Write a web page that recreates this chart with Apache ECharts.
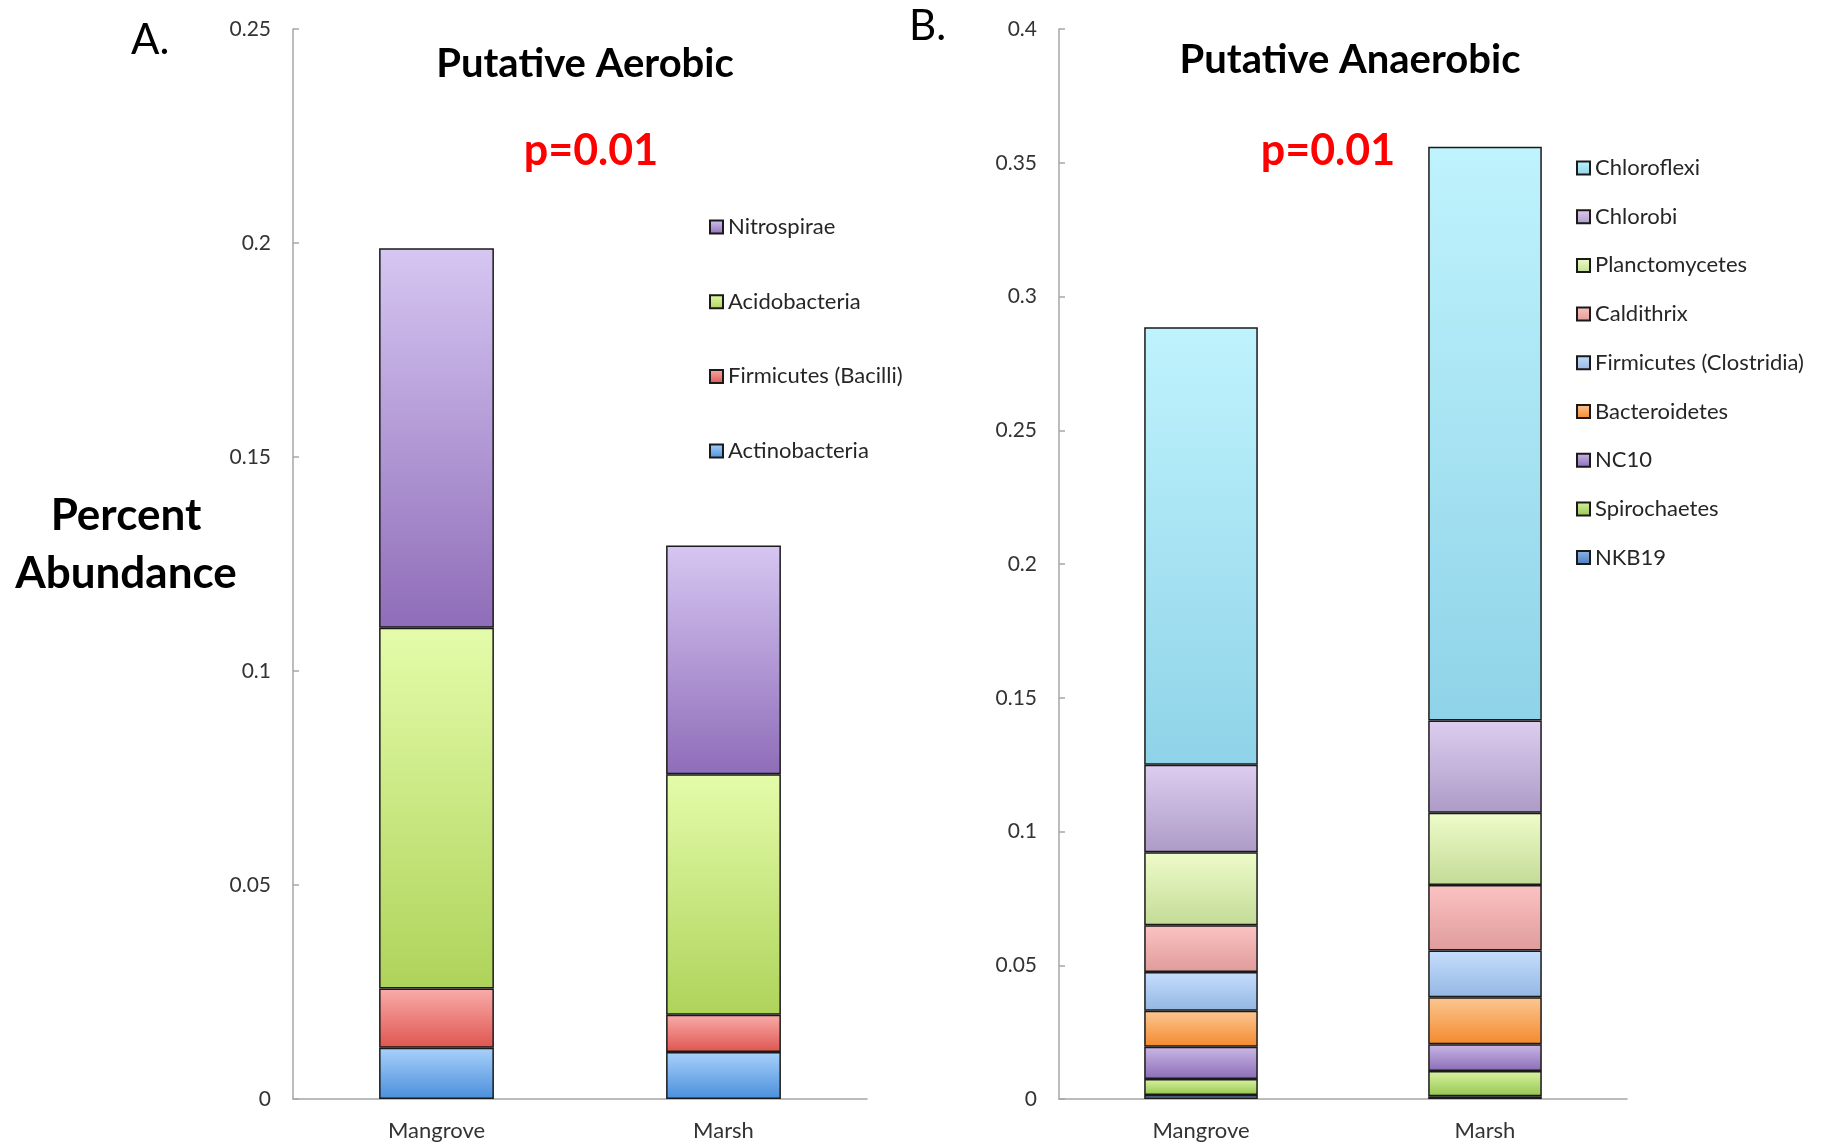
<!DOCTYPE html>
<html>
<head>
<meta charset="utf-8">
<title>Putative Aerobic / Anaerobic</title>
<script src="https://cdn.jsdelivr.net/npm/echarts@6/dist/echarts.min.js"></script>
<style>
  html, body { margin: 0; padding: 0; background: #ffffff; }
  #chart { width: 1821px; height: 1144px; }
</style>
</head>
<body>
<div id="chart"></div>
<script>
// Sites on the x axis of both panels
const categories = ['Mangrove', 'Marsh'];

// Panel A: putative aerobic phyla (stacked bottom to top), values per site
const actinobacteria = [0.0120, 0.0110];
const firmicutesBacilli = [0.0138, 0.0087];
const acidobacteria = [0.0843, 0.0562];
const nitrospirae = [0.0887, 0.0534];

// Panel B: putative anaerobic phyla (stacked bottom to top), values per site
const nkb19 = [0.0015, 0.0010];
const spirochaetes = [0.0060, 0.0095];
const nc10 = [0.0120, 0.0100];
const bacteroidetes = [0.0135, 0.0175];
const firmicutesClostridia = [0.0145, 0.0175];
const caldithrix = [0.0175, 0.0245];
const planctomycetes = [0.0272, 0.0270];
const chlorobi = [0.0328, 0.0345];
const chloroflexi = [0.1635, 0.2145];

// Value axis ranges and tick step
const aerobicAxisMax = 0.25;
const anaerobicAxisMax = 0.4;
const axisStep = 0.05;

const chart = echarts.init(document.getElementById('chart'));
const FONT = 'Lato, "Open Sans", sans-serif';

function grad(top, bottom) {
  return new echarts.graphic.LinearGradient(0, 0, 0, 1, [
    { offset: 0, color: top },
    { offset: 1, color: bottom }
  ]);
}

function stackSeries(name, data, axisIndex, stack, top, bottom) {
  return {
    name: name,
    type: 'bar',
    stack: stack,
    xAxisIndex: axisIndex,
    yAxisIndex: axisIndex,
    data: data,
    barWidth: '40%',
    itemStyle: { color: grad(top, bottom), borderColor: '#1a1a1a', borderWidth: 1.5 },
    emphasis: { disabled: true }
  };
}

const axisLineStyle = { lineStyle: { color: '#a6a6a6', width: 1.5 } };

function xAxis(gridIndex) {
  return {
    type: 'category',
    gridIndex: gridIndex,
    data: categories,
    boundaryGap: true,
    axisLine: axisLineStyle,
    axisTick: { inside: true, length: 6, lineStyle: { color: '#a6a6a6', width: 1.5 } },
    axisLabel: { color: '#333333', fontFamily: FONT, fontSize: 22, margin: 21 }
  };
}

function yAxis(gridIndex, max) {
  return {
    type: 'value',
    gridIndex: gridIndex,
    min: 0,
    max: max,
    interval: axisStep,
    splitLine: { show: false },
    axisLine: { show: true, lineStyle: { color: '#a6a6a6', width: 1.5 } },
    axisTick: { show: true, inside: true, length: 6, lineStyle: { color: '#a6a6a6', width: 1.5 } },
    axisLabel: { color: '#333333', fontFamily: FONT, fontSize: 21, margin: 22 }
  };
}

const legendText = { fontFamily: FONT, fontSize: 22, color: '#262626', lineHeight: 20 };

const option = {
  backgroundColor: '#ffffff',
  animation: false,
  grid: [
    { left: 293, top: 29, width: 574, height: 1070 },
    { left: 1059, top: 29, width: 568, height: 1070 }
  ],
  xAxis: [xAxis(0), xAxis(1)],
  yAxis: [yAxis(0, aerobicAxisMax), yAxis(1, anaerobicAxisMax)],
  legend: [
    {
      orient: 'vertical', left: 709, top: 216, itemGap: 52.7, padding: 0,
      itemWidth: 13, itemHeight: 13, icon: 'rect',
      textStyle: legendText,
      data: ['Nitrospirae', 'Acidobacteria', 'Firmicutes (Bacilli)', 'Actinobacteria'],
      selectedMode: false
    },
    {
      orient: 'vertical', left: 1576, top: 157, itemGap: 26.7,
      padding: 0,
      itemWidth: 13, itemHeight: 13, icon: 'rect',
      textStyle: legendText,
      data: ['Chloroflexi', 'Chlorobi', 'Planctomycetes', 'Caldithrix',
        'Firmicutes (Clostridia)', 'Bacteroidetes', 'NC10', 'Spirochaetes', 'NKB19'],
      selectedMode: false
    }
  ],
  series: [
    stackSeries('Actinobacteria', actinobacteria, 0, 'aerobic', '#a9d1fb', '#4a8fdc'),
    stackSeries('Firmicutes (Bacilli)', firmicutesBacilli, 0, 'aerobic', '#f9acaa', '#df5650'),
    stackSeries('Acidobacteria', acidobacteria, 0, 'aerobic', '#e4fcaa', '#aed35a'),
    stackSeries('Nitrospirae', nitrospirae, 0, 'aerobic', '#d6c6f2', '#8f6db9'),

    stackSeries('NKB19', nkb19, 1, 'anaerobic', '#8fb7e3', '#4a7cc0'),
    stackSeries('Spirochaetes', spirochaetes, 1, 'anaerobic', '#d9f2a2', '#95c64f'),
    stackSeries('NC10', nc10, 1, 'anaerobic', '#cbb7e6', '#8a6db6'),
    stackSeries('Bacteroidetes', bacteroidetes, 1, 'anaerobic', '#fcc793', '#f38a2e'),
    stackSeries('Firmicutes (Clostridia)', firmicutesClostridia, 1, 'anaerobic', '#c6defd', '#93b7e3'),
    stackSeries('Caldithrix', caldithrix, 1, 'anaerobic', '#fbc3c2', '#df9c9b'),
    stackSeries('Planctomycetes', planctomycetes, 1, 'anaerobic', '#effcca', '#c3db97'),
    stackSeries('Chlorobi', chlorobi, 1, 'anaerobic', '#ddcdef', '#ad9bc7'),
    stackSeries('Chloroflexi', chloroflexi, 1, 'anaerobic', '#bff3fd', '#8fd3e8')
  ],
  graphic: [
    { type: 'text', x: 131, y: 40, style: { text: 'A.', font: '42px ' + FONT, fill: '#000', align: 'left', verticalAlign: 'middle' } },
    { type: 'text', x: 909, y: 26, style: { text: 'B.', font: '42px ' + FONT, fill: '#000', align: 'left', verticalAlign: 'middle' } },
    { type: 'text', x: 585, y: 64, style: { text: 'Putative Aerobic', font: 'bold 40px ' + FONT, fill: '#000', align: 'center', verticalAlign: 'middle' } },
    { type: 'text', x: 1350, y: 60, style: { text: 'Putative Anaerobic', font: 'bold 40px ' + FONT, fill: '#000', align: 'center', verticalAlign: 'middle' } },
    { type: 'text', x: 591, y: 151, style: { text: 'p=0.01', font: 'bold 43px ' + FONT, fill: '#ff0000', align: 'center', verticalAlign: 'middle' } },
    { type: 'text', x: 1328, y: 151, style: { text: 'p=0.01', font: 'bold 43px ' + FONT, fill: '#ff0000', align: 'center', verticalAlign: 'middle' } },
    { type: 'text', x: 126, y: 516, style: { text: 'Percent', font: 'bold 44px ' + FONT, fill: '#000', align: 'center', verticalAlign: 'middle' } },
    { type: 'text', x: 126, y: 574, style: { text: 'Abundance', font: 'bold 44px ' + FONT, fill: '#000', align: 'center', verticalAlign: 'middle' } }
  ]
};

chart.setOption(option);
</script>
</body>
</html>
